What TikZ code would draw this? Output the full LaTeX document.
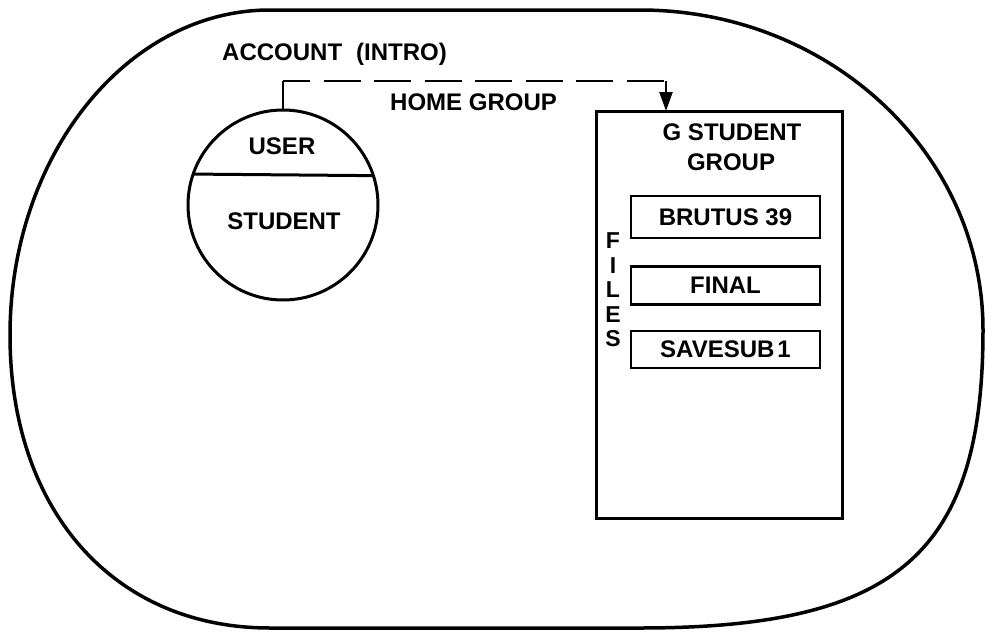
\documentclass[tikz,border=0pt]{standalone}
\usepackage{fontspec}
\setmainfont{Liberation Sans}
\usetikzlibrary{arrows.meta}
\begin{document}
\begin{tikzpicture}[x=1pt,y=-1pt,
  lbl/.style={inner sep=0pt, font=\bfseries\fontsize{24}{28}\selectfont},
  outline/.style={line width=3.5pt, line join=round},
  frame/.style={draw, line width=3pt, inner sep=0pt, outer sep=0pt},
  filebox/.style={frame, line width=2.6pt, minimum width=189pt, font=\bfseries\fontsize{24}{28}\selectfont},
  link/.style={line width=2.4pt}]
\useasboundingbox (0,0) rectangle (986,632);
% outer account boundary
\draw[outline] (270,10) -- (640,10)
  .. controls (829,10) and (983,153) .. (983,330)
  .. controls (983,553.5) and (897,628) .. (640,628)
  -- (270,628)
  .. controls (114,628) and (10,511) .. (10,335)
  .. controls (10,156) and (126.5,10) .. (270,10) -- cycle;
\node[lbl, anchor=base west] (account) at (222,60) {ACCOUNT\hspace{14pt}(INTRO)};
% user circle
\node[frame, circle, minimum size=190pt] (user) at (283,205) {};
\draw[line width=3pt] (user.161.6) -- (user.18.4);
\node[lbl] (usertxt) at (282,146.5) {USER};
\node[lbl] (studenttxt) at (284,221) {STUDENT};
% group box
\node[frame, minimum width=246pt, minimum height=407pt] (gbox) at (719,314.5) {};
\node[lbl] (gstudent) at (732,132.5) {G STUDENT};
\node[lbl] (grouptxt) at (731,162.5) {GROUP};
\node[filebox, minimum height=42pt] (brutus) at (725.5,217) {BRUTUS 39};
\node[filebox, minimum height=38pt] (final) at (725.5,285.5) {FINAL};
\node[filebox, minimum height=37pt] (savesub) at (725.5,349.5) {SAVESUB\kern3pt 1};
\node[inner sep=0pt, align=center, font=\bfseries\fontsize{23}{24.5}\selectfont] (files) at (613,290) {F\\I\\L\\E\\S};
% home group link
\coordinate (hgL) at (user.north |- 0,81);
\coordinate (hgR) at (666,81);
\draw[link] (user.north) -- (hgL);
\draw[link, dash pattern=on 37pt off 13.57pt, dash phase=10pt] (hgL) -- (hgR);
\draw[link, -{Triangle[length=19pt,width=13pt]}] (hgR) -- (hgR |- gbox.north);
\node[lbl, anchor=base west] (home) at (390,110) {HOME GROUP};
\end{tikzpicture}
\end{document}
